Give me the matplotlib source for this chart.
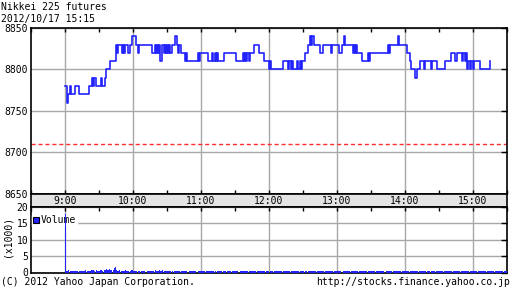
import matplotlib
matplotlib.use('Agg')
import matplotlib.pyplot as plt
from matplotlib.patches import Patch

plt.rcParams['font.family'] = ['DejaVu Sans Mono']

# 価格の変化点 (9:00からの分, 価格)
price_min = [0, 2, 3, 4, 5, 9, 12, 21, 24, 25, 26, 27, 32, 33, 35, 36, 40, 45, 46, 47,
             50, 51, 52, 53, 56, 57, 59, 63, 64, 65, 77, 79, 80, 81, 82, 83, 84, 86, 87, 88,
             89, 90, 91, 92, 93, 94, 97, 99, 100, 101, 102, 106, 107, 108, 117, 118, 119, 126, 130, 131,
             132, 133, 134, 135, 140, 151, 157, 158, 159, 160, 161, 162, 163, 167, 171, 176, 180, 181, 182, 192,
             197, 198, 199, 200, 201, 205, 206, 207, 208, 209, 212, 214, 216, 217, 218, 220, 225, 228, 235, 236,
             242, 244, 246, 247, 254, 255, 256, 257, 258, 262, 267, 268, 269, 285, 286, 287, 294, 295, 302, 304,
             305, 309, 311, 313, 317, 318, 323, 324, 328, 335, 341, 344, 346, 350, 351, 353, 354, 355, 356, 357,
             358, 360, 361, 366, 375]
price_val = [8780, 8760, 8770, 8780, 8770, 8780, 8770, 8780, 8790, 8780, 8790, 8780, 8790, 8780, 8790, 8800, 8810, 8830, 8820, 8830,
             8820, 8830, 8820, 8830, 8820, 8830, 8840, 8830, 8820, 8830, 8820, 8830, 8820, 8830, 8820, 8830, 8810, 8830, 8820, 8830,
             8820, 8830, 8820, 8830, 8820, 8830, 8840, 8830, 8820, 8830, 8820, 8810, 8820, 8810, 8820, 8810, 8820, 8810, 8820, 8810,
             8820, 8810, 8820, 8810, 8820, 8810, 8820, 8810, 8820, 8810, 8820, 8810, 8820, 8830, 8820, 8810, 8800, 8810, 8800, 8810,
             8800, 8810, 8800, 8810, 8800, 8810, 8800, 8810, 8800, 8810, 8820, 8830, 8840, 8830, 8840, 8830, 8820, 8830, 8820, 8830,
             8820, 8830, 8840, 8830, 8820, 8830, 8820, 8830, 8820, 8810, 8820, 8810, 8820, 8830, 8820, 8830, 8840, 8830, 8820, 8810,
             8800, 8790, 8800, 8810, 8800, 8810, 8800, 8810, 8800, 8810, 8820, 8810, 8820, 8810, 8820, 8810, 8820, 8800, 8810, 8800,
             8810, 8800, 8810, 8800, 8810]
prev_close = 8710

# 出来高 (x1000), 1分ごと
volume = [
    18, 0.6, 0.5, 0.7, 0.5, 0.6, 0.5, 0.4, 0.5, 0.6, 0.5, 0.5, 0.4, 0.6, 0.5, 0.4, 0.5, 0.5, 0.7, 0.5, 0.4, 0.6, 0.5, 0.7, 0.8,
    0.7, 0.6, 0.8, 0.6, 0.5, 0.5, 0.7, 0.9, 0.6, 0.8, 0.7, 1.0, 0.8, 0.7, 1.1, 0.8, 0.9, 0.7, 1.3, 1.6, 0.8, 0.6, 0.5, 0.7, 0.6,
    0.5, 0.6, 0.5, 0.8, 0.5, 0.4, 0.6, 0.5, 0.7, 0.9, 0.6, 0.5, 0.5, 0.4, 0.6, 0.5, 0, 0.5, 0.4, 0.5, 0.4, 0, 0.5, 0.4, 0.5,
    0.4, 0.5, 0.6, 0.5, 0.7, 0.5, 0.6, 0.5, 0.8, 0.6, 0.5, 0.7, 0.5, 0.6, 0.5, 0.5, 0.4, 0.6, 0.5, 0.4, 0, 0.4, 0.5, 0.4, 0.5,
    0.5, 0.6, 0.4, 0.5, 0.4, 0.5, 0.6, 0.4, 0, 0.5, 0.4, 0.5, 0.4, 0.4, 0.5, 0.4, 0, 0.5, 0.6, 0.4, 0.5, 0.4, 0.4, 0.5, 0.4,
    0.5, 0.4, 0.6, 0.5, 0.4, 0.5, 0.4, 0.5, 0, 0.4, 0.5, 0.4, 0.4, 0.5, 0.4, 0.5, 0.4, 0, 0.4, 0.5, 0.4, 0.4, 0.5, 0.4, 0.5,
    0.4, 0.5, 0.4, 0, 0.4, 0.5, 0.4, 0.5, 0.6, 0.4, 0.5, 0.4, 0.5, 0.4, 0.4, 0.5, 0.6, 0.5, 0.4, 0.5, 0.4, 0.5, 0.4, 0.6, 0.5,
    0.4, 0.4, 0.5, 0.4, 0.5, 0, 0.4, 0.5, 0.4, 0.5, 0.4, 0.5, 0.4, 0.4, 0.5, 0.4, 0.5, 0.4, 0.5, 0.4, 0.4, 0.5, 0.4, 0.5, 0.5,
    0.4, 0.5, 0.4, 0.5, 0.6, 0.5, 0.4, 0.5, 0.4, 0.5, 0.4, 0, 0.4, 0.5, 0.4, 0.5, 0.4, 0.5, 0.6, 0.5, 0.4, 0.5, 0.4, 0.5, 0.4,
    0.5, 0.4, 0.5, 0.4, 0.5, 0.4, 0.5, 0.4, 0.5, 0.4, 0.4, 0.5, 0.4, 0.5, 0.4, 0.5, 0.4, 0.5, 0.4, 0, 0.4, 0.5, 0.4, 0.5, 0.4,
    0.5, 0.4, 0.5, 0.4, 0.5, 0.4, 0.5, 0.4, 0.5, 0.4, 0.5, 0.4, 0.5, 0.4, 0.5, 0.4, 0.5, 0.6, 0.5, 0.4, 0.5, 0.4, 0.5, 0.4, 0.5,
    0.4, 0.5, 0.4, 0.5, 0.4, 0.5, 0.4, 0, 0.4, 0.5, 0.4, 0.5, 0.4, 0.5, 0.4, 0.5, 0.4, 0.5, 0.4, 0.5, 0.4, 0.5, 0.4, 0.5, 0.4,
    0.5, 0.4, 0.5, 0.4, 0.5, 0.6, 0.5, 0.4, 0.5, 0.4, 0.5, 0.4, 0.5, 0.4, 0.5, 0.4, 0.5, 0.4, 0.5, 0.4, 0.5, 0.4, 0, 0.4, 0.5,
    0.4, 0.5, 0.4, 0.5, 0.4, 0.5, 0.4, 0.5, 0.4, 0.5, 0.4, 0.5, 0.4, 0.5, 0.4, 0.5, 0.4, 0.5, 0.4, 0.5, 0.4, 0.5, 0.4, 0.5, 0.4,
    0.5, 0.4, 0.5, 0.4, 0.5, 0.4, 0.5, 0.6, 0.5, 0.4, 0.5, 0.4, 0.5, 0.4, 0.5, 0.4, 0.5, 0.4, 0.5, 0.4, 0.5, 0.4, 0.5, 0.4, 0.5,
    0.4, 0.5, 0.4, 0.5, 0.4, 0.5, 0.4, 0.5, 0.4, 0.5, 0.4, 0.5, 0.4, 0.5, 0.4, 0.5, 0.4, 0.5, 0.4, 0.5, 1.2, 0.5, 0.4, 0.6, 0.5,
    1.3,
]

hours = [9, 10, 11, 12, 13, 14, 15]
hour_labels = ['9:00', '10:00', '11:00', '12:00', '13:00', '14:00', '15:00']
price_ticks = [8650, 8700, 8750, 8800, 8850]
vol_ticks = [0, 5, 10, 15, 20]

W, H = 512, 301
fig = plt.figure(figsize=(W / 100, H / 100), dpi=100)

def box(l, t, r, b):
    return [l / W, 1 - b / H, (r - l) / W, (b - t) / H]

ax = fig.add_axes(box(31, 28, 507, 194))
axt = fig.add_axes(box(31, 194, 507, 207))
ax2 = fig.add_axes(box(31, 207, 507, 272.5))

blue = '#2222ff'
grid_c = '#a8a8a8'
fs = 7.0

# 価格チャート
px = [9 + m / 60 for m in price_min]
ax.plot(px, price_val, drawstyle='steps-post', color=blue, lw=1.2, zorder=3)
ax.axhline(prev_close, color='#ff3030', lw=1, dashes=(3, 2), zorder=2)
ax.set_xlim(8.5, 15.5)
ax.set_ylim(8650, 8850)
ax.set_yticks(price_ticks)
ax.set_xticks(hours)
ax.set_xticks([h + 0.5 for h in [8] + hours], minor=True)
ax.grid(True, which='major', color=grid_c, lw=1)
ax.tick_params(axis='y', left=False, right=True, direction='in', length=4, width=1,
               labelsize=fs, pad=2)
ax.tick_params(axis='x', which='both', top=True, bottom=True, direction='in', length=3,
               width=1, labelbottom=False)

# 時刻ラベル帯
axt.set_facecolor('#e4e4e4')
axt.set_xlim(8.5, 15.5)
axt.set_ylim(0, 1)
axt.set_xticks([])
axt.set_yticks([])
for h, lab in zip(hours, hour_labels):
    axt.text(h, 0.45, lab, ha='center', va='center', fontsize=fs)

# 出来高
vx = [9 + i / 60 for i in range(len(volume))]
ax2.vlines(vx, 0, volume, color=blue, lw=0.72, zorder=6, antialiased=False)
ax2.set_xlim(8.5, 15.5)
ax2.set_ylim(0, 20)
ax2.set_yticks(vol_ticks)
ax2.set_xticks(hours)
ax2.set_xticks([h + 0.5 for h in [8] + hours], minor=True)
ax2.grid(True, which='major', color=grid_c, lw=1)
ax2.tick_params(axis='y', left=False, right=True, direction='in', length=4, width=1,
                labelsize=fs, pad=2)
ax2.tick_params(axis='x', which='both', top=True, bottom=False, direction='in', length=3,
                width=1, labelbottom=False)
ax2.legend(handles=[Patch(facecolor=blue, edgecolor='black', lw=0.8)], labels=['Volume'],
           loc='upper left', bbox_to_anchor=(0.0, 0.9), frameon=True, fancybox=False,
           framealpha=1, edgecolor='white', borderpad=0.1, handlelength=0.6,
           handleheight=0.6, handletextpad=0.25, borderaxespad=0.1, fontsize=fs)

for a in (ax, axt, ax2):
    for s in a.spines.values():
        s.set_linewidth(1.2)

fig.text(1 / W, 1 - 7 / H, 'Nikkei 225 futures', ha='left', va='center', fontsize=fs)
fig.text(1 / W, 1 - 19 / H, '2012/10/17 15:15', ha='left', va='center', fontsize=fs)
fig.text(7 / W, 1 - 236 / H, '(x1000)', ha='center', va='center', rotation=90, fontsize=fs)
fig.text(1 / W, 1 - 282 / H, '(C) 2012 Yahoo Japan Corporation.', ha='left', va='center', fontsize=fs)
fig.text(510 / W, 1 - 282 / H, 'http://stocks.finance.yahoo.co.jp', ha='right', va='center', fontsize=fs)

fig.savefig('out.png', dpi=100)
